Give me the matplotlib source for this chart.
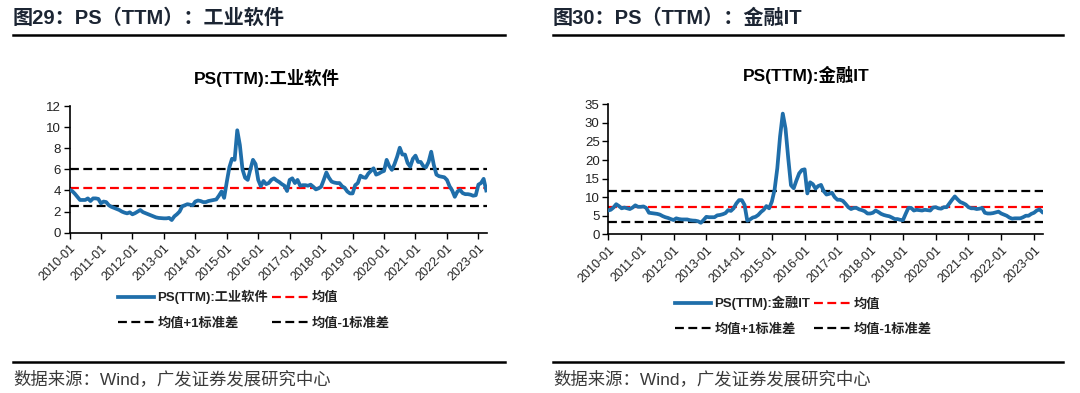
import matplotlib
matplotlib.use("Agg")
import matplotlib.pyplot as plt
import numpy as np

plt.rcParams['font.family'] = ['Liberation Sans', 'Noto Sans CJK SC', 'DejaVu Sans']

# ---------------- data ----------------
tick_labels = [f"{y}-01" for y in range(2010, 2024)]

ps_industrial = [
    4.05, 3.95, 3.7, 3.4, 3.1, 3.1, 3.1, 3.25, 3.0, 3.25, 3.25, 3.2,
    2.78, 2.95, 2.9, 2.6, 2.45, 2.35, 2.25, 2.15, 2.0, 1.9, 1.83, 1.93,
    1.74, 1.85, 2.0, 2.15, 1.95, 1.85, 1.75, 1.65, 1.55, 1.45, 1.4, 1.38,
    1.36, 1.36, 1.4, 1.2, 1.55, 1.75, 2.0, 2.5, 2.6, 2.7, 2.65, 2.6,
    2.95, 3.05, 3.0, 2.9, 2.9, 3.0, 3.05, 3.1, 3.15, 3.5, 3.9, 3.3,
    4.8, 6.2, 7.0, 6.9, 9.7, 8.3, 6.0, 5.2, 5.0, 6.0, 6.9, 6.5,
    5.0, 4.4, 4.9, 4.6, 4.7, 5.0, 5.15, 4.95, 4.8, 4.6, 4.45, 3.95,
    5.0, 5.15, 4.7, 5.0, 4.45, 4.5, 4.5, 4.45, 4.55, 4.35, 4.1, 4.2,
    4.35, 5.0, 5.7, 5.2, 4.84, 4.75, 4.7, 4.7, 4.4, 4.25, 3.9, 3.72,
    3.72, 4.5, 4.7, 5.4, 5.25, 5.2, 5.6, 5.85, 6.1, 5.5, 5.6, 5.75,
    5.85, 6.9, 6.3, 5.95, 6.5, 7.2, 8.05, 7.4, 7.4, 6.6, 6.25, 7.0,
    7.3, 6.7, 6.7, 6.3, 6.2, 6.7, 7.67, 6.4, 5.5, 5.35, 5.3, 5.25,
    5.0, 4.4, 4.0, 3.4, 3.9, 4.05, 3.75, 3.65, 3.65, 3.6, 3.5, 3.55,
    4.55, 4.7, 5.1, 4.0,
]
ind_mean, ind_std = 4.27, 1.74

ps_fin_it = [
    6.4, 6.6, 7.2, 8.1, 7.6, 7.0, 7.2, 7.0, 6.8, 7.2, 7.8, 7.4,
    7.4, 7.5, 7.1, 5.8, 5.7, 5.6, 5.5, 5.3, 4.9, 4.6, 4.4, 4.1,
    3.85, 4.3, 4.1, 4.0, 4.0, 4.0, 3.8, 3.7, 3.66, 3.5, 3.1, 3.85,
    4.7, 4.6, 4.6, 4.6, 5.1, 5.2, 5.4, 5.7, 6.5, 6.3, 7.0, 8.3,
    9.2, 9.2, 7.9, 3.66, 4.0, 4.5, 4.7, 5.2, 6.0, 6.6, 7.6, 7.0,
    8.8, 12.0, 17.8, 26.3, 32.5, 28.5, 20.5, 13.2, 12.4, 14.5, 16.4, 17.3,
    17.5, 11.0, 14.0, 13.5, 12.3, 13.0, 13.3, 11.6, 10.7, 10.9, 11.2, 10.0,
    9.3, 9.3, 9.0, 8.2, 7.3, 6.8, 7.1, 7.1, 6.7, 6.5, 6.2, 5.6,
    5.6, 5.8, 6.4, 6.0, 5.5, 5.2, 5.0, 4.85, 4.5, 4.1, 4.1, 3.9,
    3.8, 5.5, 7.1, 7.1, 6.4, 6.6, 6.5, 6.4, 6.6, 6.5, 6.4, 7.2,
    7.3, 7.0, 6.9, 7.3, 7.3, 8.3, 9.3, 10.2, 9.4, 8.7, 8.4, 8.0,
    7.3, 7.0, 7.0, 6.8, 6.9, 7.1, 5.8, 5.6, 5.6, 5.7, 5.9, 6.1,
    5.6, 5.3, 5.0, 4.5, 4.2, 4.3, 4.3, 4.3, 4.6, 5.0, 5.0, 5.5,
    5.8, 6.4, 6.7, 6.0,
]
fin_mean, fin_std = 7.45, 4.15

W, H = 1080, 393
fig = plt.figure(figsize=(W / 100, H / 100), dpi=100)


def fx(px):
    return px / W


def fy(py):
    return 1 - py / H


LINE_C = "#1f6eaa"
HEAD_C = "#1c2533"
dash = (0, (4, 2))


def panel(ax_box, series, mean, std, ylim, yticks, title, title_xy, series_name,
          header, hx, hline_x1, leg_xy):
    x0, y0, x1, y1 = ax_box
    ax = fig.add_axes([fx(x0), fy(y1), fx(x1) - fx(x0), fy(y0) - fy(y1)])
    n = len(series)
    xs = np.arange(n)
    l_main, = ax.plot(xs, series, color=LINE_C, lw=2.7, solid_joinstyle='round',
                      label=series_name, zorder=3)
    l_mean = ax.axhline(mean, color="#ff0000", lw=1.6, ls=dash, label="均值", zorder=2)
    l_up = ax.axhline(mean + std, color="black", lw=1.6, ls=dash, label="均值+1标准差", zorder=2)
    l_dn = ax.axhline(mean - std, color="black", lw=1.6, ls=dash, label="均值-1标准差", zorder=2)
    ax.set_xlim(0, n - 1 + 0.4)
    ax.set_ylim(*ylim)
    ax.set_yticks(yticks)
    ax.set_xticks(np.arange(0, n, 12))
    ax.set_xticklabels(tick_labels, rotation=45, ha='right', rotation_mode='anchor',
                       fontsize=9, color="#222222")
    ax.tick_params(axis='x', direction='out', length=4, width=1, pad=3)
    ax.tick_params(axis='y', direction='out', length=4, width=1, labelsize=9.5,
                   labelcolor="#222222", pad=2)
    for s in ['top', 'right']:
        ax.spines[s].set_visible(False)
    for s in ['left', 'bottom']:
        ax.spines[s].set_linewidth(1.2)
    ax.patch.set_alpha(0)

    fig.text(fx(title_xy[0]), fy(title_xy[1]), title, ha='center', va='center',
             fontsize=12.5, fontweight='bold', color="black")

    leg = ax.legend([l_main, l_up, l_mean, l_dn],
                    [series_name, "均值+1标准差", "均值", "均值-1标准差"],
                    ncol=2, frameon=False, loc='upper left',
                    bbox_to_anchor=(fx(leg_xy[0]), fy(leg_xy[1])),
                    bbox_transform=fig.transFigure,
                    prop={'size': 9.5, 'weight': 'bold'},
                    handlelength=2.7, handletextpad=0.3, columnspacing=0.3,
                    labelspacing=1.0, borderpad=0, borderaxespad=0)
    for t in leg.get_texts():
        t.set_color("#222222")

    # header and footer
    fig.text(fx(hx), fy(18), header, ha='left', va='center', fontsize=14.5,
             fontweight='bold', color=HEAD_C)
    fig.add_artist(plt.Line2D([fx(hx), fx(hline_x1)], [fy(35), fy(35)],
                              color="black", lw=1.8, transform=fig.transFigure))
    fig.add_artist(plt.Line2D([fx(hx), fx(hline_x1)], [fy(362), fy(362)],
                              color="black", lw=1.8, transform=fig.transFigure))
    fig.text(fx(hx), fy(379), "数据来源：Wind，广发证券发展研究中心", ha='left',
             va='center', fontsize=12.5, color="#3a3a3a")
    return ax


panel((69.5, 106.0, 487.3, 232.7), ps_industrial, ind_mean, ind_std,
      (0, 12), np.arange(0, 13, 2), "PS(TTM):工业软件", (267, 78),
      "PS(TTM):工业软件", "图29：PS（TTM）：工业软件", 13, 505, (118, 290))

panel((608.0, 104.3, 1043.3, 234.3), ps_fin_it, fin_mean, fin_std,
      (0, 35), np.arange(0, 36, 5), "PS(TTM):金融IT", (806, 75),
      "PS(TTM):金融IT", "图30：PS（TTM）：金融IT", 553, 1063, (675, 296))

fig.savefig("out.png", dpi=100)
